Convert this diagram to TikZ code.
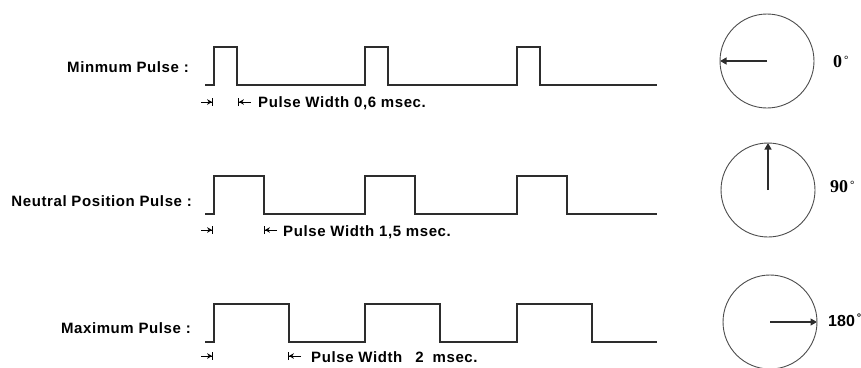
\documentclass[tikz,border=0pt]{standalone}
\usepackage{fontspec}
\setmainfont{Liberation Sans}
\newfontfamily\lblfont[LetterSpace=4]{Liberation Sans}
\newfontfamily\degserif{Liberation Serif}
\usetikzlibrary{arrows.meta}
\definecolor{wire}{RGB}{45,45,45}
\tikzset{
  sig/.style={line width=1.1pt,wire},
  lbl/.style={font=\lblfont\bfseries\fontsize{15}{17}\selectfont,inner sep=0pt},
  widthtick/.style={line width=0.9pt,-{Stealth[length=5pt,width=5.5pt]Bar[width=8pt]}},
  dial/.style={line width=0.9pt,wire!85},
  needle/.style={line width=1.2pt,wire,-{Triangle[length=6.5pt,width=7pt]}},
  degs/.style={font=\degserif\bfseries\fontsize{18}{20}\selectfont,inner sep=0pt},
  degh/.style={font=\bfseries\fontsize{16}{18}\selectfont,inner sep=0pt}
}
\newcommand{\dg}{\hspace{2pt}\raisebox{0.55ex}{\fontsize{11}{11}\selectfont °}}

\begin{document}
\begin{tikzpicture}[x=1pt,y=-1pt,>=Stealth]
  \useasboundingbox (0,0) rectangle (861,367);
  \clip (0,0) rectangle (861,367);

  % minimum pulse
  \node[lbl,anchor=east] (minlbl) at (189,67) {Minmum Pulse :};
  \draw[sig] (205,85) foreach \x in {214,365,517} { -- (\x,85) -- (\x,47) -- (\x+23,47) -- (\x+23,85) } -- (657,85);
  \coordinate (rise1) at (213,102);
  \coordinate (fall1) at (238,102);
  \draw[widthtick] ([xshift=-12pt]rise1) -- (rise1);
  \draw[widthtick] ([xshift=13pt]fall1) -- (fall1);
  \node[lbl,anchor=west] (pw1) at (258,103) {Pulse Width 0,6 msec.};

  % neutral pulse
  \node[lbl,anchor=east] (neulbl) at (192,201) {Neutral Position Pulse :};
  \draw[sig] (205,214) foreach \x in {214,365,517} { -- (\x,214) -- (\x,176) -- (\x+50,176) -- (\x+50,214) } -- (657,214);
  \coordinate (rise2) at (213,230);
  \coordinate (fall2) at (264,230);
  \draw[widthtick] ([xshift=-12pt]rise2) -- (rise2);
  \draw[widthtick] ([xshift=13pt]fall2) -- (fall2);
  \node[lbl,anchor=west] (pw2) at (283,232) {Pulse Width 1,5 msec.};

  % maximum pulse
  \node[lbl,anchor=east] (maxlbl) at (191,328) {Maximum Pulse :};
  \draw[sig] (205,342) foreach \x in {214,365,517} { -- (\x,342) -- (\x,304) -- (\x+75,304) -- (\x+75,342) } -- (657,342);
  \coordinate (rise3) at (213,356);
  \coordinate (fall3) at (288,356);
  \draw[widthtick] ([xshift=-12pt]rise3) -- (rise3);
  \draw[widthtick] ([xshift=13pt]fall3) -- (fall3);
  \node[lbl,anchor=west] (pw3) at (311,357) {Pulse Width\hspace{13pt}2\hspace{9pt}msec.};

  % servo dials
  \coordinate (hub0) at (767,61);
  \coordinate (tip0) at (720,61);
  \draw[dial] (hub0) circle[radius=47pt];
  \draw[needle] (hub0) -- (tip0);
  \node[degs,anchor=west] (deg0) at (833,62) {0\dg};

  \coordinate (hub90) at (768,190);
  \coordinate (tip90) at (768,143);
  \draw[dial] (hub90) circle[radius=47pt];
  \draw[needle] (hub90) -- (tip90);
  \node[degs,anchor=west] (deg90) at (830,187) {90\dg};

  \coordinate (hub180) at (770,322);
  \coordinate (tip180) at (817,322);
  \draw[dial] (hub180) circle[radius=47pt];
  \draw[needle] (hub180) -- (tip180);
  \node[degh,anchor=west] (deg180) at (828,320) {180\dg};
\end{tikzpicture}
\end{document}
